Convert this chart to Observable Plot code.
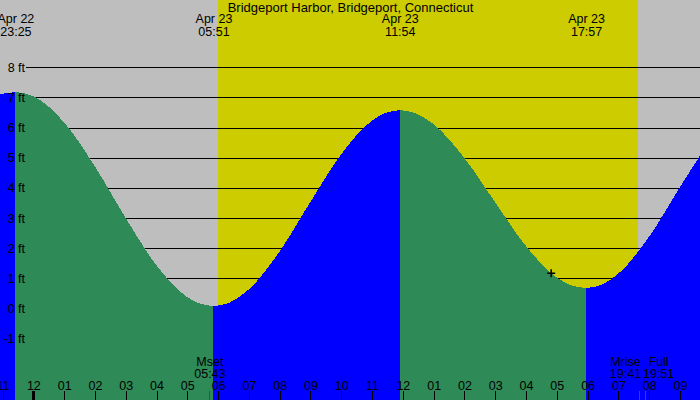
<!DOCTYPE html>
<html><head><meta charset="utf-8">
<script src="https://cdn.jsdelivr.net/npm/d3@7"></script>
<script src="https://cdn.jsdelivr.net/npm/@observablehq/plot@0.6"></script>
<style>body{margin:0;background:#fff} svg{display:block}</style>
</head><body><div id="chart"></div>
<script>
const title = "Bridgeport Harbor, Bridgeport, Connecticut";

// Tide curve (local time, feet)
const tideTimes = [
  "2024-04-22T22:55","2024-04-22T23:25","2024-04-23T00:00","2024-04-23T01:00","2024-04-23T02:00",
  "2024-04-23T03:00","2024-04-23T04:00","2024-04-23T05:00","2024-04-23T05:21","2024-04-23T05:51",
  "2024-04-23T06:21","2024-04-23T07:00","2024-04-23T08:00","2024-04-23T09:00","2024-04-23T10:00",
  "2024-04-23T11:00","2024-04-23T11:24","2024-04-23T11:54","2024-04-23T12:24","2024-04-23T13:00",
  "2024-04-23T14:00","2024-04-23T15:00","2024-04-23T16:00","2024-04-23T17:00","2024-04-23T17:27",
  "2024-04-23T17:57","2024-04-23T18:27","2024-04-23T19:00","2024-04-23T20:00","2024-04-23T21:00",
  "2024-04-23T21:39"
];
const tideHeights = [
  7.11, 7.18, 7.04, 6.17, 4.71,
  3.00, 1.43, 0.38, 0.19, 0.08,
  0.19, 0.64, 1.90, 3.54, 5.12,
  6.23, 6.47, 6.58, 6.48, 6.11,
  4.99, 3.52, 2.07, 1.03, 0.78,
  0.68, 0.79, 1.16, 2.39, 4.03,
  5.07
];

// High / low tide events
const extremeTimes = ["2024-04-22T23:25","2024-04-23T05:51","2024-04-23T11:54","2024-04-23T17:57"];
const extremeDates = ["Apr 22","Apr 23","Apr 23","Apr 23"];
const extremeClock = ["23:25","05:51","11:54","17:57"];

// Daylight
const sunrise = "2024-04-23T05:59";
const sunset = "2024-04-23T19:39";

// Moon events
const moonTimes = ["2024-04-23T05:43","2024-04-23T19:41","2024-04-23T19:51"];
const moonNames = ["Mset","Mrise","Full"];
const moonClock = ["05:43","19:41","19:51"];

// Axis labels
const hourLabels = ["11","12","01","02","03","04","05","06","07","08","09","10","11","12","01","02","03","04","05","06","07","08","09"];
const ftTicks = [8,7,6,5,4,3,2,1,0,-1];

// Current time marker
const nowTime = "2024-04-23T16:48";
const nowHeight = 1.19;

const xDomain = ["2024-04-22T22:55","2024-04-23T21:39"];
const yDomain = [-3.03, 10.23];

// ---- build tables ----
const extremeSet = new Set(extremeTimes.map(t => +new Date(t)));
const rows = [];
let seg = 0;
tideTimes.forEach((t, i) => {
  const d = new Date(t);
  rows.push({date: d, h: tideHeights[i], seg});
  if (extremeSet.has(+d)) { seg++; rows.push({date: d, h: tideHeights[i], seg}); }
});
const segDir = {};
d3.groups(rows, r => r.seg).forEach(([s, rs]) => {
  segDir[s] = rs[rs.length - 1].h > rs[0].h ? "#0000FF" : "#2E8B57";
});
const extremes = extremeTimes.map((t, i) => ({date: new Date(t), day: extremeDates[i], clock: extremeClock[i]}));
const moons = moonTimes.map((t, i) => ({date: new Date(t), name: moonNames[i], clock: moonClock[i]}));
const hourTimes = d3.timeHour.range(new Date("2024-04-22T23:00"), new Date("2024-04-23T21:01"));
const hours = hourTimes.map((d, i) => ({date: d, label: hourLabels[i], midnight: d.getHours() === 0}));

// label nudges so that close moon events do not collide
const moonShift = {Mset: 0, Mrise: -14.5, Full: 13.5};

const fs = 12.5;
const chart = Plot.plot({
  width: 700, height: 400,
  margin: 0,
  style: {background: "#BEBEBE", fontFamily: "'Liberation Sans', Arial, sans-serif", color: "black"},
  x: {type: "time", domain: xDomain.map(t => new Date(t)), axis: null},
  y: {domain: yDomain, axis: null},
  color: {type: "identity"},
  marks: [
    Plot.rect([{a: new Date(sunrise), b: new Date(sunset)}], {x1: "a", x2: "b", fill: "#CCCC00", shapeRendering: "crispEdges"}),
    Plot.ruleY(ftTicks, {y: d => d, stroke: "black", insetLeft: 26, shapeRendering: "crispEdges"}),
    Plot.areaY(rows, {x: "date", y1: yDomain[0], y2: "h", z: "seg", fill: r => segDir[r.seg], curve: "monotone-x", shapeRendering: "crispEdges"}),
    Plot.text(ftTicks, {y: d => d, text: d => `${d} ft`, frameAnchor: "left", dx: 24.5, textAnchor: "end", fontSize: fs, lineAnchor: "middle"}),
    Plot.text([title], {text: d => d, frameAnchor: "top", dy: 7, fontSize: 13, lineAnchor: "middle"}),
    Plot.text(extremes, {x: "date", text: "day", frameAnchor: "top", dy: 18.5, fontSize: fs, lineAnchor: "middle"}),
    Plot.text(extremes, {x: "date", text: "clock", frameAnchor: "top", dy: 31.3, fontSize: fs, lineAnchor: "middle"}),
    ...moons.map(m => Plot.text([m], {x: "date", text: "name", frameAnchor: "bottom", dy: -38.8, dx: moonShift[m.name], fontSize: fs, lineAnchor: "middle"})),
    ...moons.map(m => Plot.text([m], {x: "date", text: "clock", frameAnchor: "bottom", dy: -26.7, dx: moonShift[m.name], fontSize: fs, lineAnchor: "middle"})),
    Plot.text(hours, {x: "date", text: "label", frameAnchor: "bottom", dy: -14.7, fontSize: fs, lineAnchor: "middle"}),
    Plot.ruleX(hours.filter(h => !h.midnight), {x: "date", stroke: "black", insetTop: 391, shapeRendering: "crispEdges"}),
    Plot.ruleX(hours.filter(h => h.midnight), {x: "date", stroke: "black", strokeWidth: 3, insetTop: 391, shapeRendering: "crispEdges"}),
    Plot.ruleX(moons, {x: "date", stroke: "#FF0000", insetTop: 391, shapeRendering: "crispEdges"}),
    Plot.dot([{date: new Date(nowTime), h: nowHeight}], {x: "date", y: "h", symbol: "plus", r: 2.7, stroke: "black", fill: "none", strokeWidth: 1.5})
  ]
});
document.getElementById("chart").appendChild(chart);
</script>
</body></html>
